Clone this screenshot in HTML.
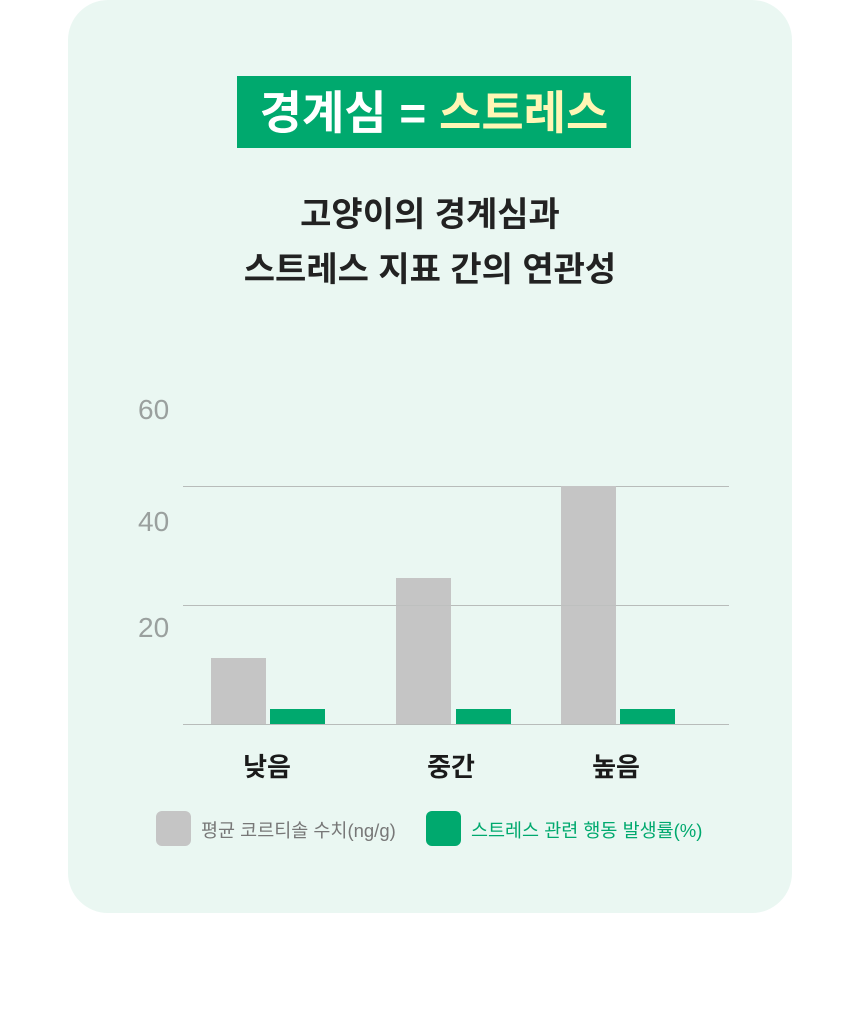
<!DOCTYPE html>
<html><head><meta charset="utf-8"><style>
body{margin:0;width:860px;height:1011px;background:#fff;position:relative;font-family:"Liberation Sans","Noto Sans CJK KR",sans-serif;overflow:hidden}
.card{position:absolute;left:68px;top:0;width:724px;height:913px;background:#eaf7f2;border-radius:40px}
.a{position:absolute}
.tb{left:237px;top:76px;width:394px;height:72px;background:#00a96e;color:#fff;font-weight:bold;font-size:46px;line-height:74px;text-align:center;white-space:nowrap}
.sub{left:0;width:860px;text-align:center;font-size:34px;line-height:40px;font-weight:bold;color:#222}
.yl{font-size:28px;color:#9aa09e;left:138px}
.gl{left:183px;width:546px;height:1px;background:#b8bcba}
.g{background:#c5c5c5}.gr{background:#00a96e}
.xl{font-size:26px;font-weight:bold;color:#1a1a1a;width:120px;text-align:center}
.lg{font-size:18.5px;white-space:nowrap}
</style></head><body>
<div class="card"></div>
<div class="a tb">경계심 = <span style="color:#fff6b5">스트레스</span></div>
<div class="a sub" style="top:195px">고양이의 경계심과</div>
<div class="a sub" style="top:250px">스트레스 지표 간의 연관성</div>
<div class="a yl" style="top:394px">60</div>
<div class="a yl" style="top:506px">40</div>
<div class="a yl" style="top:612px">20</div>
<div class="a gl" style="top:486px"></div>
<div class="a gl" style="top:605px"></div>
<div class="a g" style="left:211px;top:658px;width:55px;height:66px"></div>
<div class="a gr" style="left:270px;top:709px;width:55px;height:15px"></div>
<div class="a g" style="left:396px;top:578px;width:55px;height:146px"></div>
<div class="a gr" style="left:456px;top:709px;width:55px;height:15px"></div>
<div class="a g" style="left:561px;top:486px;width:55px;height:238px"></div>
<div class="a gr" style="left:620px;top:709px;width:55px;height:15px"></div>
<div class="a gl" style="top:605px;opacity:.5"></div>
<div class="a gl" style="top:724px"></div>
<div class="a xl" style="left:207px;top:747px">낮음</div>
<div class="a xl" style="left:391px;top:747px">중간</div>
<div class="a xl" style="left:556px;top:747px">높음</div>
<div class="a g" style="left:156px;top:811px;width:35px;height:35px;border-radius:6px"></div>
<div class="a lg" style="left:201px;top:817px;color:#777">평균 코르티솔 수치(ng/g)</div>
<div class="a gr" style="left:426px;top:811px;width:35px;height:35px;border-radius:6px"></div>
<div class="a lg" style="left:471px;top:817px;color:#00a96e">스트레스 관련 행동 발생률(%)</div>
</body></html>
